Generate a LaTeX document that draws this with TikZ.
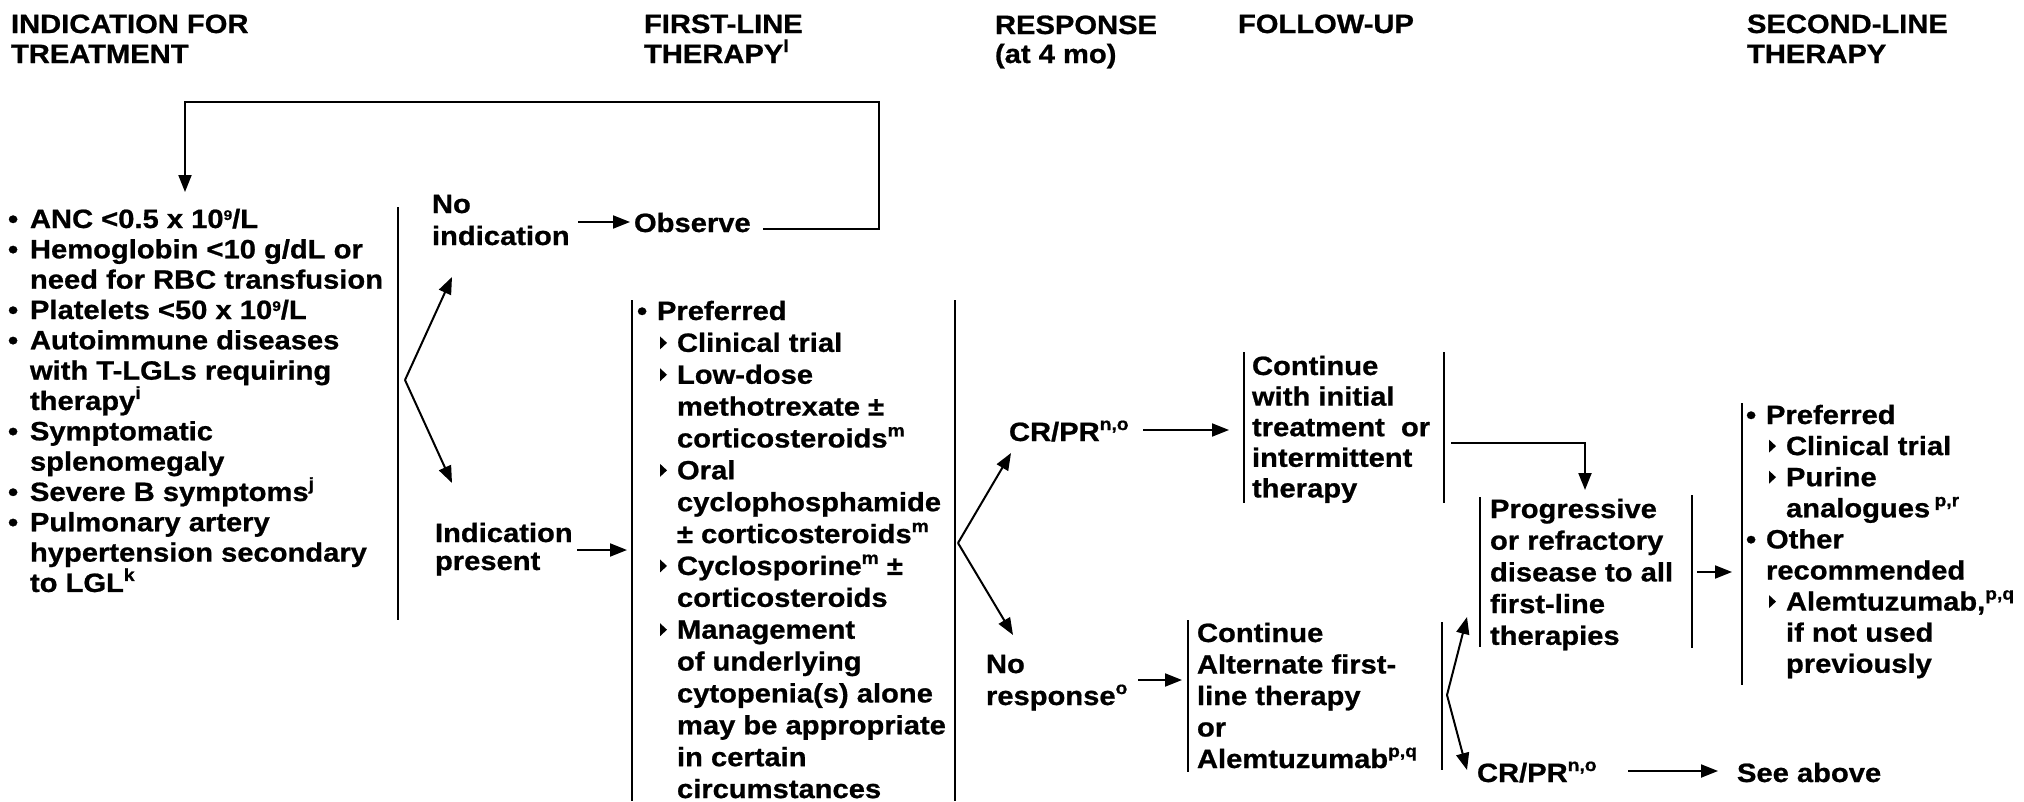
\documentclass[tikz,border=0pt]{standalone}
\usepackage{fontspec}
\setmainfont{Liberation Sans}[FakeStretch=1.1, BoldFeatures={FakeBold=0.8}]
\usetikzlibrary{arrows.meta}

% footnote markers and list helpers
\newcommand\sps[1]{\raisebox{11pt}{\fontsize{17.5}{17.5}\selectfont #1}}
\newcommand\spnine{\raisebox{8pt}{\fontsize{14}{14}\selectfont 9}}
\newcommand\fl{\rule{0pt}{22pt}}
\newcommand\tri{\tikz[baseline=0pt,x=1pt,y=1pt]\fill (0,2.5)--(0,15.5)--(7,9)--cycle;}
\newcommand\bul{\makebox[20pt][l]{•}}
\newcommand\bulA{\makebox[22pt][l]{•}}
\newcommand\subi{\hspace*{23pt}\makebox[17pt][l]{\tri}}
\newcommand\indt{\hspace*{40pt}}
\newcommand\indA{\hspace*{22pt}}

\tikzset{
  txt/.style={inner sep=0pt, outer sep=0pt, anchor=north west, align=left,
    font={\bfseries\fontsize{26.5}{#1}\selectfont\lineskiplimit=-100pt\relax}},
  txt/.default=30.3,
  bar/.style={line width=2.4pt},
  arr/.style={line width=2pt, -{Triangle[length=17pt,width=13pt]}},
}

\begin{document}
\begin{tikzpicture}[x=1pt,y=-1pt]
\useasboundingbox[fill=white] (0,0) rectangle (2024,801);

% column headings
\node[txt=30] (hInd)    at (11,11)   {\fl INDICATION FOR\\TREATMENT};
\node[txt=30] (hFirst)  at (644,11)  {\fl FIRST-LINE\\THERAPY\sps{l}};
\node[txt=29] (hResp)   at (995,12)  {\fl RESPONSE\\(at 4 mo)};
\node[txt=30] (hFollow) at (1238,11) {\fl FOLLOW-UP};
\node[txt=30] (hSecond) at (1747,11) {\fl SECOND-LINE\\THERAPY};

% indications
\node[txt=30.33] (indlist) at (8,206) {\fl\bulA ANC <0.5 x 10\spnine/L\\
\bulA Hemoglobin <10 g/dL or\\
\indA need for RBC transfusion\\
\bulA Platelets <50 x 10\spnine/L\\
\bulA Autoimmune diseases\\
\indA with T-LGLs requiring\\
\indA therapy\sps{i}\\
\bulA Symptomatic\\
\indA splenomegaly\\
\bulA Severe B symptoms\sps{j}\\
\bulA Pulmonary artery\\
\indA hypertension secondary\\
\indA to LGL\sps{k}};

\node[txt=32] (noind)   at (432,191) {\fl No\\indication};
\node[txt]    (observe) at (634,210) {\fl Observe};
\node[txt=28] (indpres) at (435,520) {\fl Indication\\present};

% first-line therapy
\node[txt=31.87] (firstlist) at (637,298) {\fl\bul Preferred\\
\subi Clinical trial\\
\subi Low-dose\\
\indt methotrexate ±\\
\indt corticosteroids\sps{m}\\
\subi Oral\\
\indt cyclophosphamide\\
\indt ± corticosteroids\sps{m}\\
\subi Cyclosporine\sps{m} ±\\
\indt corticosteroids\\
\subi Management\\
\indt of underlying\\
\indt cytopenia(s) alone\\
\indt may be appropriate\\
\indt in certain\\
\indt circumstances};

% response and follow-up
\node[txt] (crpr1) at (1009,419) {\fl CR/PR\sps{n,o}};
\node[txt=30.6] (contbox) at (1252,353) {\fl Continue\\with initial\\treatment\ \ or\\intermittent\\therapy};
\node[txt=32] (noresp) at (986,651) {\fl No\\response\sps{o}};
\node[txt=31.5] (altbox) at (1197,620) {\fl Continue\\Alternate first-\\line therapy\\or\\Alemtuzumab\sps{p,q}};
\node[txt=31.7] (progbox) at (1490,496) {\fl Progressive\\or refractory\\disease to all\\first-line\\therapies};
\node[txt] (crpr2) at (1477,760) {\fl CR/PR\sps{n,o}};
\node[txt] (seeabove) at (1737,760) {\fl See above};

% second-line therapy
\node[txt=31.1] (secondlist) at (1746,402) {\fl\bul Preferred\\
\subi Clinical trial\\
\subi Purine\\
\indt analogues\,\sps{p,r}\\
\bul Other\\
\hspace*{20pt}recommended\\
\subi Alemtuzumab,\sps{p,q}\\
\indt if not used\\
\indt previously};

% bracket bars
\draw[bar] (398,207) -- (398,620);
\draw[bar] (632,300) -- (632,801);
\draw[bar] (955,300) -- (955,801);
\draw[bar] (1244,352) -- (1244,503);
\draw[bar] (1444,352) -- (1444,503);
\draw[bar] (1188,620) -- (1188,772);
\draw[bar] (1442,622) -- (1442,770);
\draw[bar] (1480,497) -- (1480,647);
\draw[bar] (1692,495) -- (1692,648);
\draw[bar] (1742,403) -- (1742,685);

% connector end points
\coordinate (obsEnd) at (763,229);
\coordinate (loopR) at (879,102);
\coordinate (loopL) at (185,102);
\coordinate (loopTip) at (185,192);
\coordinate (b1) at (405,380);
\coordinate (b1up) at (452,277);
\coordinate (b1dn) at (452,483);
\coordinate (b2) at (958,543);
\coordinate (b2up) at (1011,453);
\coordinate (b2dn) at (1013,635);
\coordinate (b3) at (1447,695);
\coordinate (b3up) at (1467,617);
\coordinate (b3dn) at (1467,770);
\coordinate (contOut) at (1451,443);
\coordinate (progIn) at (1585,490);

% connectors
\draw[arr] (obsEnd) -- (obsEnd -| loopR) -- (loopR) -- (loopL) -- (loopTip);
\draw[arr] (578,222) -- (630,222);
\draw[arr] (b1) -- (b1up);
\draw[arr] (b1) -- (b1dn);
\draw[arr] (577,550) -- (627,550);
\draw[arr] (b2) -- (b2up);
\draw[arr] (b2) -- (b2dn);
\draw[arr] (1143,430) -- (1229,430);
\draw[arr] (contOut) -- (contOut -| progIn) -- (progIn);
\draw[arr] (1138,680) -- (1182,680);
\draw[arr] (b3) -- (b3up);
\draw[arr] (b3) -- (b3dn);
\draw[arr] (1628,771) -- (1718,771);
\draw[arr] (1697,572) -- (1732,572);
\end{tikzpicture}
\end{document}
